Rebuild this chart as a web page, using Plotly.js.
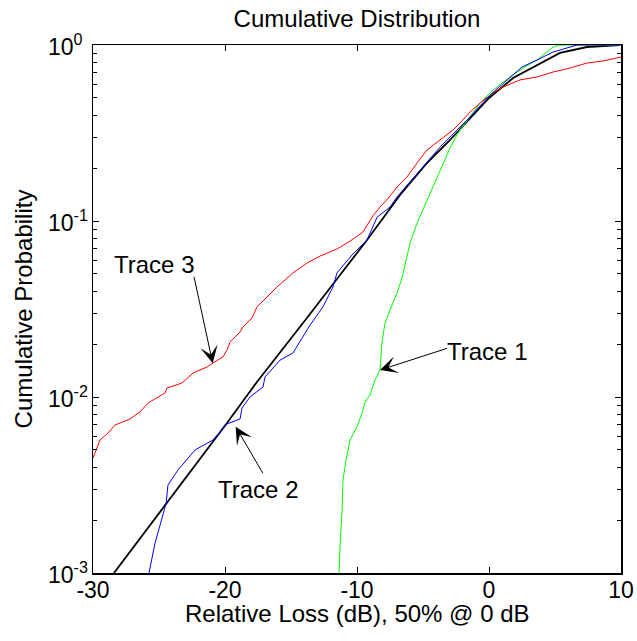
<!DOCTYPE html>
<html>
<head>
<meta charset="utf-8">
<script src="https://cdn.plot.ly/plotly-3.0.1.min.js"></script>
<style>
  html, body { margin: 0; padding: 0; background: #ffffff; }
  #chart { width: 637px; height: 641px; }
</style>
</head>
<body>
<div id="chart"></div>
<script>
// Reference distribution (black), relative loss in dB vs cumulative probability
const lossRef = [-28.41, -24.47, -19.85, -17.58, -15.83, -13.56, -11.52, -9.24, -6.74, -4.70, -2.95, -1.44, 0.0, 1.82, 3.64, 5.38, 7.42, 9.92];
const probRef = [0.001, 0.00247, 0.00711, 0.01217, 0.0178, 0.0296, 0.0468, 0.078, 0.1406, 0.2136, 0.2886, 0.380, 0.500, 0.649, 0.770, 0.901, 0.974, 1.0];

// Trace 1 (green)
const loss1 = [-11.36, -11.29, -11.14, -11.06, -10.83, -10.53, -10.0, -9.62, -9.39, -9.02, -8.64, -8.26, -8.11, -7.88, -7.50, -6.97, -6.59, -5.98, -5.45, -4.70, -4.24, -3.71, -2.95, -2.35, -1.44, -0.68, 0.30, 1.59, 2.58, 3.64, 4.85, 5.38, 10.0];
const prob1 = [0.001, 0.00141, 0.00219, 0.00338, 0.00439, 0.0057, 0.00676, 0.00811, 0.00937, 0.01026, 0.0125, 0.0142, 0.0203, 0.0263, 0.0312, 0.039, 0.0474, 0.075, 0.0974, 0.1316, 0.156, 0.192, 0.26, 0.316, 0.39, 0.468, 0.555, 0.658, 0.74, 0.822, 0.974, 1.0, 1.0];

// Trace 2 (blue)
const loss2 = [-25.76, -25.30, -24.47, -24.32, -23.56, -22.27, -20.91, -19.85, -18.86, -18.71, -18.11, -17.12, -16.97, -15.83, -14.85, -13.56, -12.58, -11.82, -11.52, -10.38, -9.24, -8.48, -7.50, -6.97, -3.71, -1.44, 0.08, 1.82, 2.50, 3.64, 4.85, 6.67, 10.0];
const prob2 = [0.001, 0.00148, 0.00247, 0.00316, 0.00385, 0.0050, 0.0057, 0.00703, 0.0075, 0.00866, 0.0100, 0.0114, 0.0130, 0.0162, 0.0178, 0.0256, 0.0325, 0.0422, 0.0507, 0.0641, 0.078, 0.105, 0.120, 0.137, 0.263, 0.390, 0.520, 0.675, 0.750, 0.822, 0.912, 1.0, 1.0];

// Trace 3 (red)
const loss3 = [-30.0, -29.47, -28.86, -28.33, -27.20, -26.44, -25.83, -24.55, -24.39, -23.26, -22.42, -21.36, -20.91, -20.15, -19.85, -19.62, -18.86, -18.64, -17.95, -17.58, -16.82, -16.06, -15.45, -14.85, -13.79, -12.80, -11.52, -10.53, -9.55, -8.79, -8.26, -7.73, -6.97, -6.21, -5.45, -4.70, -3.71, -2.73, -2.20, -1.44, -0.68, 0.30, 1.06, 1.82, 2.35, 3.64, 4.85, 6.14, 7.42, 8.64, 10.0];
const prob3 = [0.0045, 0.0057, 0.00624, 0.00693, 0.0075, 0.00822, 0.00924, 0.01054, 0.01125, 0.0120, 0.0137, 0.0148, 0.0156, 0.0169, 0.0185, 0.0205, 0.0234, 0.0250, 0.0281, 0.0325, 0.0370, 0.0422, 0.0462, 0.0507, 0.0577, 0.0632, 0.0693, 0.0769, 0.0866, 0.107, 0.120, 0.132, 0.156, 0.178, 0.214, 0.253, 0.289, 0.329, 0.360, 0.416, 0.468, 0.534, 0.577, 0.608, 0.633, 0.658, 0.702, 0.740, 0.790, 0.811, 0.855];

// Axis ticks and labels
const xTickVals = [-30, -20, -10, 0, 10];
const xTickText = ['-30', '-20', '-10', '0', '10'];
const yTickVals = [0.001, 0.01, 0.1, 1];
const yTickText = ['10<sup>-3</sup>', '10<sup>-2</sup>', '10<sup>-1</sup>', '10<sup>0</sup>'];

// Callout labels and the point on each curve that their arrow touches
const calloutNames = ['Trace 1', 'Trace 2', 'Trace 3'];
const calloutTipX = [-8.26, -19.19, -20.93];
const calloutTipY = [0.01423, 0.00678, 0.01554];

const FONT = 'Liberation Sans, Arial, Helvetica, sans-serif';

const traces = [
  { x: lossRef, y: probRef, mode: 'lines', line: { color: '#000000', width: 1.8 }, name: 'Reference' },
  { x: loss1, y: prob1, mode: 'lines', line: { color: '#00ff00', width: 1 }, name: calloutNames[0] },
  { x: loss3, y: prob3, mode: 'lines', line: { color: '#ff0000', width: 1 }, name: calloutNames[2] },
  { x: loss2, y: prob2, mode: 'lines', line: { color: '#0000ff', width: 1 }, name: calloutNames[1] }
];

const annotations = [];

// Decade labels on the left, "10" left-aligned in a fixed column
yTickVals.forEach((v, i) => {
  annotations.push({
    xref: 'paper', yref: 'y', x: -0.089, y: Math.log10(v),
    xanchor: 'left', yanchor: 'middle',
    text: yTickText[i], showarrow: false,
    font: { family: FONT, size: 23, color: '#000' }
  });
});

// Arrows pointing at each trace (tail offsets in px)
const arrowTail = [[68, -22], [28, 48], [-19, -88]];
calloutNames.forEach((name, i) => {
  annotations.push({
    xref: 'x', yref: 'y', x: calloutTipX[i], y: Math.log10(calloutTipY[i]),
    text: ' ', showarrow: true, arrowhead: 3, arrowsize: 2.9, arrowwidth: 1,
    arrowcolor: '#000', standoff: 0, borderpad: 0,
    ax: arrowTail[i][0], ay: arrowTail[i][1],
    font: { family: FONT, size: 2 }
  });
});

// Callout texts
const calloutPos = [[0.747, 0.420], [0.3125, 0.159], [0.1155, 0.585]];
calloutNames.forEach((name, i) => {
  annotations.push({
    xref: 'paper', yref: 'paper', x: calloutPos[i][0], y: calloutPos[i][1],
    xanchor: 'center', yanchor: 'middle', showarrow: false,
    text: name, font: { family: FONT, size: 24, color: '#000' }
  });
});

// x-axis caption below the tick labels
annotations.push({
  xref: 'paper', yref: 'paper', x: 0.5, y: -0.077,
  xanchor: 'center', yanchor: 'middle', showarrow: false,
  text: 'Relative Loss (dB), 50% @ 0 dB',
  font: { family: FONT, size: 24, color: '#000' }
});

const layout = {
  width: 637, height: 641,
  margin: { l: 93, r: 16, t: 45, b: 68 },
  paper_bgcolor: '#ffffff', plot_bgcolor: '#ffffff',
  showlegend: false,
  font: { family: FONT, color: '#000' },
  title: {
    text: 'Cumulative Distribution',
    font: { family: FONT, size: 24, color: '#000' },
    x: 0.5, xref: 'paper', xanchor: 'center',
    y: 1 - 19 / 641, yref: 'container', yanchor: 'middle'
  },
  xaxis: {
    range: [-30, 10], tickmode: 'array', tickvals: xTickVals, ticktext: xTickText,
    ticks: 'inside', ticklen: 6, tickwidth: 1, tickcolor: '#000',
    ticklabelstandoff: -4,
    showline: true, linecolor: '#000', linewidth: 1.5, mirror: 'ticks',
    showgrid: false, zeroline: false,
    tickfont: { family: FONT, size: 23, color: '#000' }
  },
  yaxis: {
    type: 'log', range: [-3, 0], dtick: 1,
    ticks: 'inside', ticklen: 6, tickwidth: 1, tickcolor: '#000',
    showticklabels: false,
    minor: { ticks: 'inside', ticklen: 4, dtick: 'D1', tickcolor: '#000', tickwidth: 1, showgrid: false },
    showline: true, linecolor: '#000', linewidth: 1.5, mirror: 'ticks',
    showgrid: false, zeroline: false,
    title: { text: 'Cumulative Probability', font: { family: FONT, size: 24, color: '#000' }, standoff: 52 }
  },
  annotations: annotations
};

Plotly.newPlot('chart', traces, layout, { staticPlot: true, displayModeBar: false });
</script>
</body>
</html>
